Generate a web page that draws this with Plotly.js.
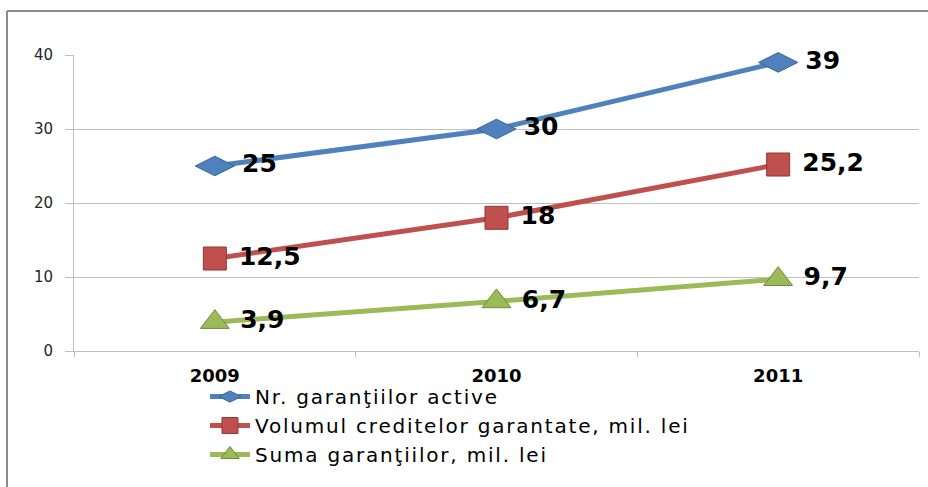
<!DOCTYPE html>
<html>
<head>
<meta charset="utf-8">
<script src="https://cdn.plot.ly/plotly-3.0.1.min.js"></script>
<style>body{margin:0;background:#fff;} #chart{width:928px;height:487px;} .legendtext{letter-spacing:1.8px;}</style>
</head>
<body>
<div id="chart"></div>
<script>
const years = ["2009", "2010", "2011"];
const nrGarantii = [25, 30, 39];
const volumCredite = [12.5, 18, 25.2];
const sumaGarantii = [3.9, 6.7, 9.7];
const seriesNames = ["Nr. garanţiilor active", "Volumul creditelor garantate, mil. lei", "Suma garanţiilor, mil. lei"];
const yTicks = [0, 10, 20, 30, 40];

const fmt = v => " " + String(v).replace('.', ',');
const labelFont = {family: "DejaVu Sans, Verdana, sans-serif", size: 25, weight: "bold", color: "#000"};

function mk(y, name, color, symbol, size, lineColor) {
  return {
    x: years, y: y, name: name, type: "scatter", mode: "lines+markers+text",
    text: y.map(fmt), textposition: "middle right", textfont: labelFont,
    line: {color: color, width: 5},
    marker: {color: color, symbol: symbol, size: size, line: {color: lineColor, width: 1}},
    cliponaxis: false
  };
}

const data = [
  mk(nrGarantii, seriesNames[0], "#4F81BD", "diamond-wide", 28, "#3A6496"),
  mk(volumCredite, seriesNames[1], "#C0504D", "square", 23, "#8E3735"),
  mk(sumaGarantii, seriesNames[2], "#9BBB59", "triangle-up", 25, "#6E8A3A")
];

const layout = {
  width: 928, height: 487,
  margin: {l: 74, r: 9, t: 55, b: 136},
  paper_bgcolor: "#fff", plot_bgcolor: "#fff",
  showlegend: true,
  separators: ",.",
  font: {family: "DejaVu Sans, Verdana, sans-serif", color: "#262626"},
  xaxis: {
    type: "category", range: [-0.5, 2.5],
    showgrid: false, showline: true, linecolor: "#bfbfbf", linewidth: 1,
    ticks: "outside", tickson: "boundaries", ticklen: 5, tickcolor: "#bfbfbf",
    tickfont: {size: 18, weight: "bold", color: "#000"}, ticklabelstandoff: 8, fixedrange: true
  },
  yaxis: {
    range: [0, 40], tickvals: yTicks, showgrid: true, gridcolor: "#c0c0c0", gridwidth: 1,
    showline: true, linecolor: "#bfbfbf", linewidth: 1, zeroline: false,
    ticks: "outside", ticklen: 8, tickcolor: "#bfbfbf", ticklabelstandoff: 9,
    tickfont: {size: 15, color: "#262626"}, fixedrange: true
  },
  legend: {
    x: 0.155, y: -0.088, xanchor: "left", yanchor: "top",
    font: {size: 20, color: "#000"}, itemwidth: 40, tracegroupgap: 0,
    bgcolor: "rgba(0,0,0,0)"
  },
  shapes: [
    {type: "line", xref: "paper", yref: "paper", x0: -0.0793, x1: -0.0793, y0: -0.6, y1: 1.1486,
     line: {color: "#8c8c8c", width: 2}, layer: "below"},
    {type: "line", xref: "paper", yref: "paper", x0: -0.0793, x1: 1.2, y0: 1.1486, y1: 1.1486,
     line: {color: "#8c8c8c", width: 2}, layer: "below"}
  ]
};

Plotly.newPlot("chart", data, layout, {displayModeBar: false, staticPlot: true});
</script>
</body>
</html>
